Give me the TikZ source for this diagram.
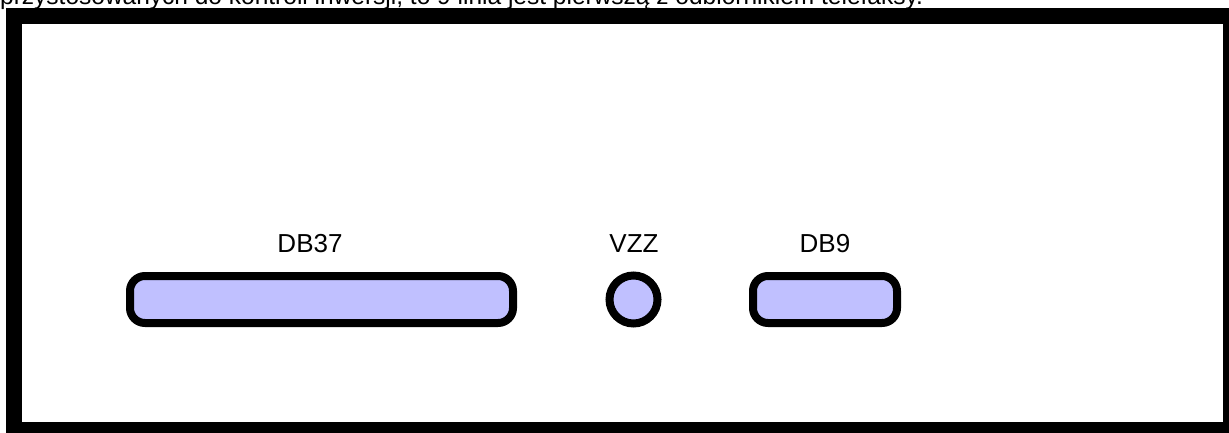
\documentclass[tikz,border=0pt]{standalone}
\usepackage{fontspec}
\setmainfont{Liberation Sans}
\definecolor{portfill}{HTML}{C0C0FF}
\begin{document}
\begin{tikzpicture}[x=1pt,y=-1pt,
  port/.style={draw=black,line width=8pt,fill=portfill,rounded corners=15pt},
  lbl/.style={font=\fontsize{26}{30}\selectfont,anchor=base,inner sep=0pt},
  frame/.style={draw=black,line width=16pt}]
\useasboundingbox (0,0) rectangle (1229,433);
\clip (0,0) rectangle (1229,433);
\node[anchor=base west,inner sep=0pt,font=\fontsize{24.5}{28}\selectfont] (top) at (0,5)
  {przystosowanych do kontroli inwersji, to 9 linia jest pierwszą z odbiornikiem telefaksy.};
\draw[frame] (14,16) rectangle (1231,430);
\draw[port] (130,276) rectangle (513,323);
\draw[port] (753,276) rectangle (897,323);
\draw[draw=black,line width=8pt,fill=portfill] (633.5,299.5) circle (24);
\node[lbl] (db37) at (310,252) {DB37};
\node[lbl] (vzz) at (634,252) {VZZ};
\node[lbl] (db9) at (825,252) {DB9};
\end{tikzpicture}
\end{document}
